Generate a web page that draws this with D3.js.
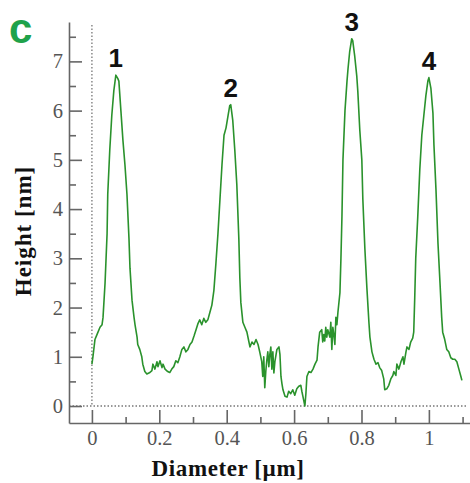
<!DOCTYPE html>
<html lang="en">
	<head>
		<meta charset="utf-8">
		<title>Height profile</title>
		<script type="text/javascript" src="https://cdn.jsdelivr.net/npm/d3@7"></script>
		<style type="text/css">
			body { margin: 0; background: #fff; }
		</style>
	</head>
	<body>
		<script type="text/javascript">
			// profile: diameter (µm) and height (nm)
			var diameter = [0.000, 0.003, 0.009, 0.015, 0.024, 0.030, 0.033, 0.039, 0.045, 0.047,
				0.053, 0.059, 0.065, 0.071, 0.077, 0.080, 0.086, 0.092, 0.098, 0.104,
				0.110, 0.113, 0.119, 0.125, 0.128, 0.134, 0.136, 0.142, 0.148, 0.151,
				0.157, 0.163, 0.172, 0.178, 0.181, 0.187, 0.193, 0.196, 0.202, 0.208,
				0.211, 0.217, 0.225, 0.231, 0.237, 0.243, 0.249, 0.255, 0.261, 0.267,
				0.273, 0.279, 0.285, 0.291, 0.297, 0.303, 0.309, 0.315, 0.320, 0.326,
				0.332, 0.338, 0.344, 0.350, 0.356, 0.362, 0.368, 0.374, 0.380, 0.386,
				0.392, 0.398, 0.404, 0.409, 0.412, 0.418, 0.424, 0.430, 0.436, 0.439,
				0.442, 0.448, 0.454, 0.460, 0.466, 0.469, 0.475, 0.481, 0.487, 0.493,
				0.498, 0.504, 0.507, 0.510, 0.513, 0.516, 0.519, 0.522, 0.525, 0.528,
				0.531, 0.534, 0.537, 0.540, 0.543, 0.549, 0.555, 0.558, 0.561, 0.564,
				0.567, 0.573, 0.579, 0.584, 0.590, 0.596, 0.602, 0.608, 0.614, 0.620,
				0.623, 0.626, 0.629, 0.632, 0.635, 0.638, 0.644, 0.650, 0.656, 0.662,
				0.668, 0.671, 0.676, 0.682, 0.685, 0.688, 0.691, 0.694, 0.697, 0.700,
				0.706, 0.709, 0.712, 0.715, 0.718, 0.721, 0.724, 0.727, 0.730, 0.736,
				0.739, 0.742, 0.745, 0.751, 0.757, 0.760, 0.765, 0.771, 0.774, 0.780,
				0.786, 0.789, 0.795, 0.801, 0.804, 0.810, 0.816, 0.822, 0.825, 0.831,
				0.837, 0.843, 0.849, 0.854, 0.860, 0.866, 0.869, 0.875, 0.881, 0.887,
				0.893, 0.896, 0.902, 0.905, 0.911, 0.917, 0.923, 0.926, 0.932, 0.935,
				0.941, 0.946, 0.952, 0.955, 0.958, 0.961, 0.967, 0.973, 0.979, 0.985,
				0.991, 0.997, 1.000, 1.006, 1.012, 1.015, 1.021, 1.027, 1.033, 1.038,
				1.041, 1.047, 1.053, 1.059, 1.065, 1.071, 1.077, 1.083, 1.089, 1.095,
				1.098];
			var height = [0.85, 1.0, 1.35, 1.45, 1.6, 1.65, 1.8, 2.5, 3.5, 4.3,
				5.2, 5.9, 6.4, 6.72, 6.65, 6.6, 6.0, 5.4, 4.9, 4.3,
				3.4, 2.8, 2.15, 1.8, 1.65, 1.4, 1.25, 1.15, 1.0, 0.85,
				0.7, 0.65, 0.68, 0.72, 0.85, 0.75, 0.9, 0.8, 0.92, 0.78,
				0.85, 0.75, 0.7, 0.68, 0.75, 0.8, 0.92, 0.88, 1.0, 1.15,
				1.2, 1.1, 1.15, 1.25, 1.3, 1.42, 1.55, 1.68, 1.75, 1.65,
				1.78, 1.7, 1.75, 1.9, 2.05, 2.35, 2.9, 3.5, 4.2, 4.9,
				5.5, 5.65, 5.9, 6.1, 6.12, 5.8, 5.2, 4.5, 3.4, 2.6,
				2.1, 1.7, 1.6, 1.5, 1.3, 1.2, 1.3, 1.25, 1.35, 1.25,
				1.1, 0.9, 0.6, 1.0, 0.37, 0.7, 0.93, 1.1, 0.8, 1.05,
				1.2, 0.75, 1.1, 0.67, 0.9, 1.15, 1.2, 1.05, 0.6, 0.45,
				0.33, 0.2, 0.18, 0.3, 0.25, 0.33, 0.22, 0.35, 0.4, 0.42,
				0.3, 0.2, 0.1, 0.0, 0.25, 0.6, 0.7, 0.68, 0.75, 0.85,
				0.93, 1.2, 1.5, 1.55, 1.3, 1.45, 1.32, 1.6, 1.4, 1.55,
				1.4, 1.7, 1.15, 1.6, 1.45, 1.25, 1.8, 1.65, 1.9, 2.3,
				3.0, 3.85, 5.0, 6.0, 6.6, 6.85, 7.2, 7.46, 7.42, 7.1,
				6.7, 6.4, 5.6, 5.0, 4.2, 3.2, 2.4, 1.7, 1.4, 1.1,
				0.95, 0.85, 0.88, 0.78, 0.72, 0.55, 0.33, 0.35, 0.42, 0.55,
				0.62, 0.7, 0.62, 0.85, 0.75, 0.9, 1.0, 0.85, 1.1, 1.2,
				1.15, 1.3, 1.38, 1.5, 2.2, 3.0, 3.85, 4.8, 5.5, 5.9,
				6.3, 6.6, 6.67, 6.45, 5.95, 5.3, 4.4, 3.3, 2.5, 1.8,
				1.5, 1.35, 1.15, 1.1, 0.98, 0.95, 0.95, 0.9, 0.75, 0.6,
				0.52];

			var peakLabels = ["1", "2", "3", "4"];
			var peakDiameter = [0.071, 0.412, 0.771, 1.0];
			var peakHeight = [6.72, 6.12, 7.46, 6.67];

			var xTicks = [0, 0.2, 0.4, 0.6, 0.8, 1];
			var xMinorTicks = [0.1, 0.3, 0.5, 0.7, 0.9, 1.1];
			var yTicks = [0, 1, 2, 3, 4, 5, 6, 7];
			var yMinorTicks = [0.5, 1.5, 2.5, 3.5, 4.5, 5.5, 6.5, 7.5];

			var w = 470;
			var h = 483;
			var green = "#2a922c";
			var axisGrey = "#666";
			var serif = "'Liberation Serif', 'Times New Roman', serif";
			var sans = "'Liberation Sans', Arial, sans-serif";

			var xScale = d3.scaleLinear()
							.domain([-0.068, 1.122])
							.range([69, 470]);
			var yScale = d3.scaleLinear()
							.domain([-0.345, 7.8])
							.range([423, 22]);

			var svg = d3.select("body")
							.append("svg")
							.attr("width", w)
							.attr("height", h);

			//dotted zero lines
			svg.append("line")
				.attr("x1", xScale(0)).attr("x2", xScale(0))
				.attr("y1", 25).attr("y2", yScale(0))
				.attr("stroke", "#777")
				.attr("stroke-width", 1.3)
				.attr("stroke-dasharray", "1.5,2");
			svg.append("line")
				.attr("x1", 69).attr("x2", 468)
				.attr("y1", yScale(0)).attr("y2", yScale(0))
				.attr("stroke", "#777")
				.attr("stroke-width", 1.3)
				.attr("stroke-dasharray", "1.5,2");

			//axes
			svg.append("g")
				.attr("transform", "translate(69,0)")
				.call(d3.axisLeft(yScale)
					.tickValues(yTicks)
					.tickFormat(d3.format("d"))
					.tickSizeInner(-13)
					.tickSizeOuter(0)
					.tickPadding(6));
			svg.append("g")
				.attr("transform", "translate(69,0)")
				.call(d3.axisLeft(yScale)
					.tickValues(yMinorTicks)
					.tickFormat("")
					.tickSizeInner(-7)
					.tickSizeOuter(0))
				.select(".domain").remove();

			svg.append("g")
				.attr("transform", "translate(0,423)")
				.call(d3.axisBottom(xScale)
					.tickValues(xTicks)
					.tickFormat(function(d) { return d; })
					.tickSizeInner(-13)
					.tickSizeOuter(0)
					.tickPadding(7));
			svg.append("g")
				.attr("transform", "translate(0,423)")
				.call(d3.axisBottom(xScale)
					.tickValues(xMinorTicks)
					.tickFormat("")
					.tickSizeInner(-6)
					.tickSizeOuter(0))
				.select(".domain").remove();

			svg.selectAll(".tick line, .domain")
				.attr("stroke", axisGrey)
				.attr("stroke-width", 1.6);
			svg.selectAll(".tick text")
				.attr("font-family", serif)
				.attr("font-size", "20.5px")
				.attr("fill", "#555");

			//profile line
			var points = diameter.map(function(d, i) {
				return [d, height[i]];
			});
			svg.append("path")
				.datum(points)
				.attr("fill", "none")
				.attr("stroke", green)
				.attr("stroke-width", 1.6)
				.attr("stroke-linejoin", "round")
				.attr("d", d3.line()
					.x(function(d) { return xScale(d[0]); })
					.y(function(d) { return yScale(d[1]); }));

			//peak numbers
			svg.selectAll(".peak")
				.data(peakLabels)
				.enter()
				.append("text")
				.attr("class", "peak")
				.text(function(d) { return d; })
				.attr("x", function(d, i) { return xScale(peakDiameter[i]); })
				.attr("y", function(d, i) { return yScale(peakHeight[i]) - 8; })
				.attr("text-anchor", "middle")
				.attr("font-family", sans)
				.attr("font-weight", "bold")
				.attr("font-size", "26px")
				.attr("fill", "#111");

			//panel letter
			svg.append("text")
				.text("c")
				.attr("x", 9)
				.attr("y", 43)
				.attr("font-family", sans)
				.attr("font-weight", "bold")
				.attr("font-size", "42px")
				.attr("fill", "#1fa24a");

			//axis titles
			svg.append("text")
				.text("Diameter [µm]")
				.attr("x", 228)
				.attr("y", 476)
				.attr("text-anchor", "middle")
				.attr("font-family", serif)
				.attr("font-weight", "bold")
				.attr("font-size", "23px")
				.attr("letter-spacing", "0.6px")
				.attr("fill", "#111");
			svg.append("text")
				.text("Height [nm]")
				.attr("transform", "translate(31,231) rotate(-90)")
				.attr("text-anchor", "middle")
				.attr("font-family", serif)
				.attr("font-weight", "bold")
				.attr("font-size", "23px")
				.attr("letter-spacing", "1px")
				.attr("fill", "#111");
		</script>
	</body>
</html>
